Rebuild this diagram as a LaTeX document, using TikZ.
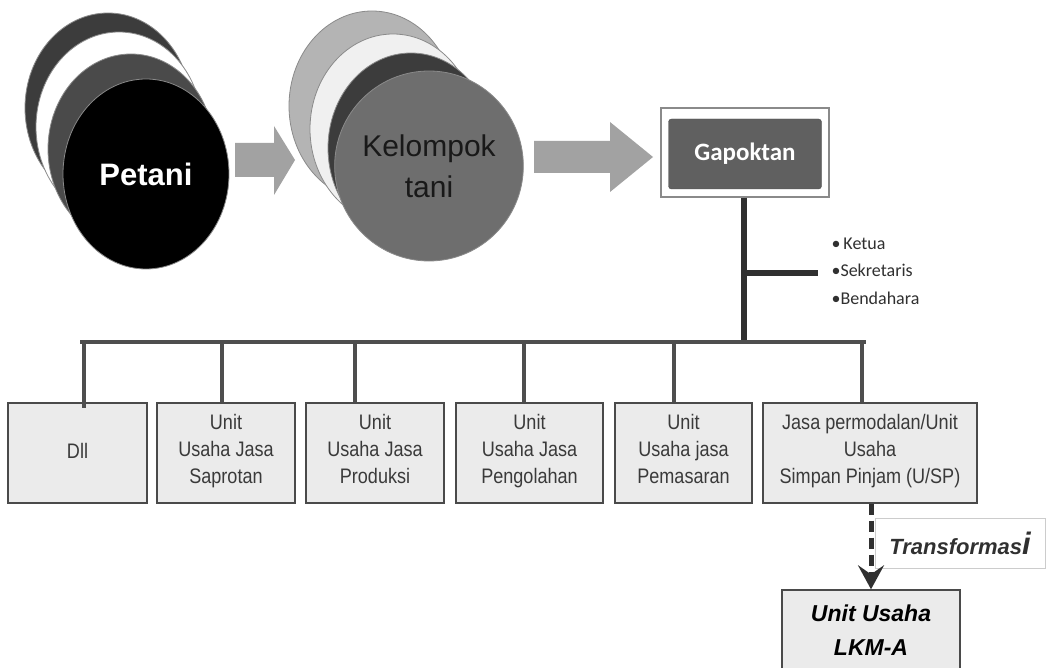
\documentclass[tikz,border=0pt]{standalone}
\usepackage{fontspec}
\setmainfont{Liberation Sans}
\newfontfamily\calfont{Carlito}
\newfontfamily\narrowfont[FakeStretch=0.86]{Liberation Sans}
\usetikzlibrary{shapes.geometric,arrows.meta}
\definecolor{discA}{HTML}{3C3C3C}
\definecolor{discB}{HTML}{4A4A4A}
\definecolor{discC}{HTML}{B4B4B4}
\definecolor{discD}{HTML}{6E6E6E}
\definecolor{rimgray}{HTML}{8A8A8A}
\definecolor{arrowgray}{HTML}{A2A2A2}
\definecolor{gapfill}{HTML}{606060}
\definecolor{linedark}{HTML}{303030}
\definecolor{busgray}{HTML}{4E4E4E}
\definecolor{boxfill}{HTML}{EBEBEB}
\definecolor{boxedge}{HTML}{4A4A4A}
\definecolor{boxtext}{HTML}{3A3A3A}
\begin{document}
\begin{tikzpicture}[x=1pt,y=-1pt,
  disc/.style={ellipse, draw=rimgray, line width=0.8pt, minimum width=166pt, minimum height=190pt, inner sep=0pt},
  blockarrow/.style={fill=arrowgray, draw=none},
  unitbox/.style={draw=boxedge, fill=boxfill, line width=1.4pt, minimum height=100pt, inner sep=0pt,
     align=center, text=boxtext, font=\narrowfont\fontsize{21}{27}\selectfont,
     execute at begin node=\strut, execute at end node=\strut},
  busline/.style={draw=busgray, line width=3.5pt},
  trunk/.style={draw=linedark, line width=6pt},
  dasharrow/.style={draw=linedark, line width=5pt, dash pattern=on 11pt off 6pt,
     -{Stealth[length=24pt,width=26pt,inset=9pt]}}
]
\useasboundingbox (0,0) rectangle (1051,668);
\fill[white] (0,0) rectangle (1051,668);

% Petani stack
\node[disc, fill=discA] (pA) at (108,108) {};
\node[disc, fill=white] (pB) at (119,127) {};
\node[disc, fill=discB] (pC) at (131,149) {};
\node[disc, fill=black, text=white, font=\bfseries\fontsize{31}{31}\selectfont] (petani) at (146,174) {Petani};

% Kelompok tani stack
\node[disc, fill=discC] (kA) at (372,106) {};
\node[disc, fill=white!94!black] (kB) at (393,129) {};
\node[disc, fill=discA] (kC) at (411,148) {};
\node[disc, fill=discD, align=center, text=black!90, font=\fontsize{30}{41}\selectfont] (kelompok) at (429,166) {Kelompok\\tani};

% block arrows
\coordinate (a1s) at (235,160);
\coordinate (a1t) at (295,160);
\fill[blockarrow] (a1s) ++(0,-17) -- ++(39,0) -- ++(0,-17) -- (a1t) -- ++(-21,35) -- ++(0,-18) -- ++(-39,0) -- cycle;
\coordinate (a2s) at (534,157);
\coordinate (a2t) at (653,157);
\fill[blockarrow] (a2s) ++(0,-16) -- ++(76,0) -- ++(0,-19) -- (a2t) -- ++(-43,35) -- ++(0,-19) -- ++(-76,0) -- cycle;

% Gapoktan
\node[draw=rimgray, line width=1.3pt, fill=white, minimum width=168pt, minimum height=89pt, inner sep=0pt] (gapo) at (745,152.5) {};
\node[fill=gapfill, draw=gapfill!80!black, rounded corners=3pt, minimum width=153pt, minimum height=70pt, inner sep=0pt,
  text=white, font=\calfont\bfseries\fontsize{25}{25}\selectfont] (gapin) at (745,154) {Gapoktan};

% trunk and branch
\coordinate (busM) at (744,342);
\coordinate (brA) at (744,273);
\coordinate (brB) at (818,273);
\draw[trunk] (gapo.south -| busM) -- (busM);
\draw[trunk] (brA) -- (brB);
\node[anchor=west, align=left, font=\calfont\fontsize{18}{27.5}\selectfont, text=linedark] (roles) at (828,271)
  {•\,Ketua\\•Sekretaris\\•Bendahara};

% unit boxes
\node[unitbox, minimum width=139pt] (dll) at (77.5,453) {Dll};
\node[unitbox, minimum width=138pt] (sap) at (226,453) {Unit\\Usaha Jasa\\Saprotan};
\node[unitbox, minimum width=138pt] (pro) at (375,453) {Unit\\Usaha Jasa\\Produksi};
\node[unitbox, minimum width=147pt] (pen) at (529.5,453) {Unit\\Usaha Jasa\\Pengolahan};
\node[unitbox, minimum width=137pt] (pem) at (683.5,453) {Unit\\Usaha jasa\\Pemasaran};
\node[unitbox, minimum width=214pt] (jasa) at (870,453) {Jasa permodalan/Unit\\Usaha\\Simpan Pinjam (U/SP)};

% bus
\coordinate (busL) at (82,342);
\coordinate (busR) at (864,342);
\coordinate (d1) at (84,342);
\coordinate (d2) at (222,342);
\coordinate (d3) at (355,342);
\coordinate (d4) at (524,342);
\coordinate (d5) at (674,342);
\coordinate (d6) at (862,342);
\draw[busline, line cap=rect] (busL) -- (busR);
\draw[busline] (d1) -- ([yshift=-6pt]dll.north -| d1);
\draw[busline] (d2) -- (sap.north -| d2);
\draw[busline] (d3) -- (pro.north -| d3);
\draw[busline] (d4) -- (pen.north -| d4);
\draw[busline] (d5) -- (pem.north -| d5);
\draw[busline] (d6) -- (jasa.north -| d6);

% transformation
\node[draw=black!20, line width=1pt, fill=white, minimum width=170pt, minimum height=50pt, inner sep=0pt,
  font=\bfseries\itshape\fontsize{22}{22}\selectfont, text=linedark] (trans) at (960,543)
  {Transformas{\fontsize{31}{31}\selectfont i}};
\node[draw=boxedge, fill=boxfill, line width=1.4pt, minimum width=178pt, minimum height=80pt, inner sep=0pt,
  align=center, font=\bfseries\itshape\fontsize{23}{34}\selectfont, text=black] (lkm) at (871,630)
  {Unit Usaha\\LKM-A};
\draw[dasharrow] (jasa.south -| lkm.north) -- (lkm.north);
\end{tikzpicture}
\end{document}
